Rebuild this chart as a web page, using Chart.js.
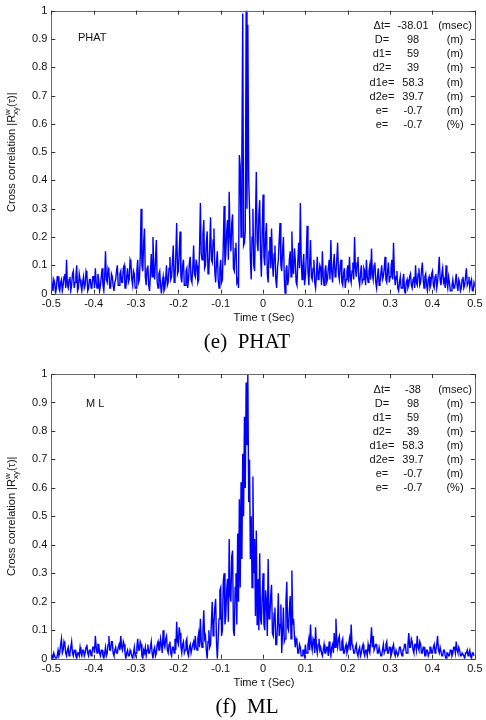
<!DOCTYPE html>
<html><head><meta charset="utf-8">
<script src="https://cdn.jsdelivr.net/npm/chart.js@4/dist/chart.umd.min.js"></script>
<style>
html,body{margin:0;padding:0;background:#fff;width:486px;height:720px;overflow:hidden}
canvas{position:absolute;left:0}
#c1{top:0}
#c2{top:360px}
</style></head><body>
<canvas id="c1" width="486" height="360"></canvas>
<canvas id="c2" width="486" height="360"></canvas>
<script>
// time lag grid (seconds)
const tauStart = -0.5, tauStep = 0.002;

// |R_xy(tau)| (e) PHAT
const phatValues = [
0.07,0.03,0.01,0.05,0.04,0.00,0.02,0.06,0.06,0.02,0.01,0.04,0.05,0.01,0.03,0.06,0.07,0.02,0.12,0.03,0.02,0.05,0.06,0.01,0.03,0.07,0.08,0.02,0.04,0.06,0.10,0.01,0.02,0.07,0.05,0.03,0.01,0.04,0.06,0.02,0.03,0.08,0.07,0.01,0.02,0.05,0.05,0.02,0.03,0.06,
0.06,0.02,0.09,0.04,0.02,0.07,0.05,0.01,0.03,0.06,0.09,0.03,0.01,0.06,0.15,0.05,0.04,0.09,0.08,0.02,0.02,0.07,0.06,0.03,0.01,0.04,0.05,0.08,0.10,0.03,0.03,0.07,0.08,0.04,0.04,0.09,0.10,0.02,0.02,0.06,0.09,0.04,0.05,0.12,0.11,0.05,0.03,0.08,0.07,0.02,
0.02,0.08,0.12,0.04,0.05,0.13,0.30,0.10,0.08,0.18,0.23,0.06,0.03,0.09,0.10,0.03,0.01,0.07,0.14,0.06,0.20,0.09,0.05,0.12,0.19,0.04,0.02,0.07,0.08,0.03,0.00,0.04,0.06,0.01,0.02,0.05,0.10,0.03,0.04,0.09,0.13,0.05,0.06,0.11,0.17,0.04,0.05,0.14,0.25,0.07,
0.08,0.15,0.22,0.06,0.04,0.10,0.12,0.03,0.03,0.08,0.09,0.02,0.05,0.11,0.13,0.05,0.04,0.09,0.17,0.07,0.06,0.12,0.10,0.04,0.05,0.16,0.32,0.14,0.12,0.21,0.26,0.09,0.10,0.18,0.22,0.07,0.08,0.16,0.27,0.12,0.11,0.19,0.23,0.08,0.04,0.11,0.15,0.05,0.02,0.09,
0.12,0.04,0.05,0.17,0.31,0.10,0.14,0.22,0.26,0.12,0.36,0.20,0.15,0.25,0.28,0.09,0.08,0.16,0.18,0.04,0.05,0.02,0.49,0.45,0.20,0.51,0.99,0.17,0.18,0.22,1.00,0.30,0.95,0.41,0.30,0.12,0.05,0.20,0.30,0.10,0.08,0.25,0.43,0.18,0.15,0.28,0.33,0.14,0.06,0.22,
0.35,0.13,0.10,0.21,0.25,0.07,0.04,0.15,0.20,0.09,0.23,0.11,0.06,0.14,0.17,0.05,0.02,0.09,0.12,0.19,0.25,0.10,0.08,0.15,0.20,0.06,0.00,0.08,0.10,0.03,0.05,0.12,0.15,0.06,0.22,0.10,0.07,0.16,0.12,0.04,0.03,0.11,0.18,0.09,0.32,0.12,0.05,0.10,0.14,0.03,
0.06,0.13,0.24,0.08,0.03,0.11,0.19,0.06,0.05,0.09,0.12,0.04,0.02,0.07,0.13,0.05,0.06,0.10,0.09,0.03,0.15,0.06,0.03,0.08,0.10,0.04,0.05,0.09,0.12,0.05,0.19,0.08,0.04,0.10,0.14,0.06,0.07,0.12,0.18,0.07,0.05,0.10,0.12,0.04,0.03,0.07,0.09,0.02,0.05,0.08,
0.10,0.04,0.13,0.06,0.04,0.08,0.11,0.05,0.20,0.09,0.06,0.11,0.13,0.05,0.03,0.07,0.10,0.04,0.05,0.09,0.08,0.03,0.12,0.06,0.04,0.08,0.10,0.05,0.16,0.07,0.05,0.10,0.11,0.04,0.02,0.06,0.09,0.03,0.04,0.07,0.10,0.05,0.06,0.09,0.13,0.05,0.04,0.08,0.11,0.04,
0.06,0.09,0.12,0.05,0.18,0.07,0.03,0.06,0.08,0.02,0.01,0.04,0.06,0.02,0.02,0.05,0.07,0.01,0.00,0.04,0.05,0.02,0.03,0.06,0.07,0.03,0.02,0.05,0.06,0.02,0.10,0.04,0.03,0.07,0.09,0.03,0.04,0.08,0.11,0.05,0.02,0.06,0.07,0.03,0.01,0.05,0.06,0.02,0.03,0.07,
0.08,0.03,0.02,0.06,0.07,0.02,0.04,0.08,0.13,0.05,0.03,0.07,0.09,0.04,0.05,0.02,0.10,0.04,0.02,0.06,0.04,0.01,0.01,0.03,0.05,0.02,0.02,0.04,0.07,0.03,0.01,0.05,0.04,0.01,0.02,0.05,0.06,0.02,0.03,0.06,0.09,0.03,0.04,0.06,0.02,0.04,0.05,0.01,0.01,0.04,0.03
];

// |R_xy(tau)| (f) ML
const mlValues = [
0.02,0.01,0.00,0.02,0.01,0.00,0.00,0.01,0.03,0.01,0.02,0.05,0.07,0.02,0.03,0.06,0.05,0.02,0.01,0.03,0.04,0.01,0.02,0.04,0.06,0.02,0.01,0.03,0.03,0.01,0.00,0.02,0.02,0.01,0.04,0.02,0.01,0.03,0.03,0.01,0.02,0.04,0.05,0.02,0.01,0.03,0.03,0.01,0.02,0.04,
0.04,0.02,0.08,0.04,0.02,0.05,0.05,0.02,0.01,0.03,0.03,0.01,0.00,0.02,0.04,0.01,0.02,0.05,0.08,0.03,0.03,0.06,0.06,0.02,0.01,0.03,0.04,0.02,0.02,0.04,0.05,0.03,0.08,0.04,0.03,0.06,0.05,0.02,0.00,0.02,0.03,0.01,0.01,0.03,0.02,0.01,0.00,0.02,0.04,0.01,
0.02,0.04,0.07,0.03,0.03,0.06,0.05,0.01,0.00,0.03,0.02,0.04,0.01,0.03,0.05,0.02,0.02,0.04,0.06,0.02,0.00,0.03,0.04,0.01,0.02,0.05,0.06,0.03,0.03,0.07,0.05,0.02,0.10,0.05,0.04,0.07,0.08,0.03,0.02,0.05,0.06,0.02,0.01,0.04,0.04,0.02,0.07,0.03,0.13,0.06,
0.05,0.11,0.09,0.04,0.02,0.05,0.06,0.02,0.03,0.06,0.07,0.02,0.01,0.04,0.05,0.02,0.02,0.05,0.06,0.03,0.08,0.04,0.03,0.07,0.09,0.04,0.14,0.06,0.04,0.10,0.17,0.07,0.08,0.03,0.00,0.06,0.10,0.04,0.05,0.13,0.20,0.08,0.12,0.18,0.21,0.06,0.00,0.07,0.14,0.24,
0.25,0.08,0.10,0.27,0.30,0.12,0.15,0.24,0.28,0.13,0.42,0.22,0.20,0.36,0.38,0.10,0.08,0.25,0.30,0.12,0.44,0.20,0.56,0.25,0.62,0.35,0.72,0.50,0.85,0.60,0.97,0.75,1.00,0.55,0.70,0.35,0.50,0.25,0.64,0.30,0.42,0.15,0.45,0.12,0.28,0.10,0.37,0.14,0.12,0.22,
0.30,0.12,0.10,0.24,0.20,0.08,0.35,0.14,0.15,0.22,0.26,0.09,0.08,0.16,0.18,0.05,0.05,0.12,0.23,0.08,0.12,0.19,0.02,0.09,0.18,0.06,0.07,0.20,0.27,0.11,0.10,0.17,0.22,0.07,0.31,0.12,0.14,0.08,0.04,0.07,0.06,0.02,0.02,0.05,0.04,0.01,0.01,0.03,0.03,0.01,
0.05,0.02,0.02,0.05,0.07,0.03,0.12,0.05,0.03,0.07,0.06,0.02,0.11,0.04,0.02,0.05,0.07,0.03,0.04,0.02,0.01,0.03,0.05,0.02,0.02,0.04,0.04,0.01,0.06,0.03,0.01,0.04,0.05,0.02,0.09,0.04,0.14,0.06,0.04,0.07,0.08,0.03,0.03,0.06,0.07,0.02,0.02,0.04,0.05,0.02,
0.03,0.05,0.07,0.03,0.12,0.05,0.04,0.02,0.02,0.04,0.05,0.02,0.01,0.03,0.04,0.01,0.02,0.04,0.05,0.02,0.01,0.03,0.03,0.01,0.05,0.03,0.02,0.06,0.11,0.04,0.08,0.03,0.03,0.05,0.05,0.02,0.02,0.04,0.04,0.01,0.01,0.03,0.05,0.02,0.03,0.05,0.06,0.02,0.02,0.04,
0.04,0.01,0.02,0.04,0.05,0.02,0.01,0.03,0.03,0.01,0.02,0.04,0.04,0.02,0.01,0.03,0.03,0.05,0.05,0.02,0.02,0.05,0.09,0.04,0.04,0.07,0.06,0.03,0.02,0.05,0.05,0.03,0.08,0.04,0.03,0.06,0.05,0.02,0.02,0.04,0.04,0.01,0.01,0.03,0.03,0.01,0.02,0.04,0.04,0.02,
0.02,0.04,0.05,0.02,0.03,0.05,0.08,0.03,0.02,0.04,0.04,0.01,0.01,0.03,0.03,0.01,0.00,0.02,0.02,0.01,0.01,0.03,0.03,0.01,0.02,0.04,0.04,0.02,0.06,0.03,0.02,0.04,0.03,0.01,0.01,0.02,0.02,0.01,0.00,0.02,0.02,0.03,0.01,0.02,0.03,0.01,0.00,0.02,0.02,0.01,0.01
];

const xTickValues = [-0.5,-0.4,-0.3,-0.2,-0.1,0,0.1,0.2,0.3,0.4,0.5];
const yTickValues = [0,0.1,0.2,0.3,0.4,0.5,0.6,0.7,0.8,0.9,1];
const xTitle = 'Time \u03c4 (Sec)';
const infoLabels = ['\u0394t=','D=','d1=','d2=','d1e=','d2e=','e=','e='];
const phatInfo = ['-38.01','98','59','39','58.3','39.7','-0.7','-0.7'];
const mlInfo = ['-38','98','59','39','58.3','39.7','-0.7','-0.7'];
const infoUnits = ['(msec)','(m)','(m)','(m)','(m)','(m)','(m)','(%)'];

const SANS = '"Liberation Sans", Arial, sans-serif';
const SERIF = '"Liberation Serif", "Times New Roman", serif';

function fmt(v){ const r = Math.round(v*10)/10; return (Object.is(r,-0)?0:r).toString(); }

function makeChart(id, values, cfg){
  const pts = values.map((v,i)=>({x: tauStart + i*tauStep, y: v}));
  const deco = {
    id: 'deco'+id,
    afterDraw(chart){
      const {ctx, chartArea:a, scales} = chart;
      const xs = scales.x, ys = scales.y;
      ctx.save();
      ctx.strokeStyle = '#6a6a6a'; ctx.lineWidth = 1;
      ctx.strokeRect(Math.round(a.left)+0.5, Math.round(a.top)+0.5, Math.round(a.right-a.left), Math.round(a.bottom-a.top));
      ctx.strokeStyle = '#333';
      ctx.beginPath();
      const L = 4;
      xTickValues.forEach(v=>{
        const px = Math.round(xs.getPixelForValue(v))+0.5;
        ctx.moveTo(px, a.bottom); ctx.lineTo(px, a.bottom-L);
        ctx.moveTo(px, a.top); ctx.lineTo(px, a.top+L);
      });
      yTickValues.forEach(v=>{
        const py = Math.round(ys.getPixelForValue(v))+0.5;
        ctx.moveTo(a.left, py); ctx.lineTo(a.left+L, py);
        ctx.moveTo(a.right, py); ctx.lineTo(a.right-L, py);
      });
      ctx.stroke();
      ctx.fillStyle = '#111';
      ctx.translate(12, (a.top+a.bottom)/2);
      ctx.rotate(-Math.PI/2);
      const f1 = '11px '+SANS, f2 = '8px '+SANS;
      const p1 = 'Cross correlation |R', sup = 'w', sub = 'xy', p2 = '(\u03c4)|';
      ctx.font = f1; const w1 = ctx.measureText(p1).width, w3 = ctx.measureText(p2).width;
      ctx.font = f2; const w2 = Math.max(ctx.measureText(sup).width, ctx.measureText(sub).width);
      let x0 = -(w1+w2+w3)/2;
      ctx.textBaseline = 'middle'; ctx.textAlign = 'left';
      ctx.font = f1; ctx.fillText(p1, x0, 0);
      ctx.font = f2; ctx.fillText(sup, x0+w1, -4); ctx.fillText(sub, x0+w1, 4);
      ctx.font = f1; ctx.fillText(p2, x0+w1+w2, 0);
      ctx.setTransform(1,0,0,1,0,0);
      ctx.font = '11px '+SANS; ctx.textAlign = 'center'; ctx.textBaseline = 'middle';
      ctx.fillText(xTitle, 264, a.bottom+24.5);
      ctx.textAlign = 'left';
      ctx.fillText(cfg.method, cfg.methodX, a.top+cfg.methodDy);
      ctx.textAlign = 'center';
      for(let i=0;i<infoLabels.length;i++){
        const y = a.top + 15.5 + i*14.1;
        ctx.fillText(infoLabels[i], 382, y);
        ctx.fillText(cfg.info[i], 413, y);
        ctx.fillText(infoUnits[i], 455, y);
      }
      ctx.fillStyle = '#000';
      ctx.font = '21px '+SERIF;
      ctx.fillText(cfg.caption, 247, a.bottom+48.5);
      ctx.restore();
    }
  };
  return new Chart(document.getElementById(id), {
    type: 'line',
    data: { datasets: [{ data: pts, borderColor: '#0000ff', borderWidth: 1.4, pointRadius: 0, tension: 0, fill: false, borderJoinStyle: 'miter' }] },
    options: {
      responsive: false, animation: false,
      layout: { padding: { top: cfg.top, right: 486-477.3, left: 0, bottom: 0 } },
      plugins: { legend: { display: false }, tooltip: { enabled: false } },
      scales: {
        x: { type: 'linear', min: -0.5, max: 0.5,
             afterBuildTicks: s => { s.ticks = xTickValues.map(v=>({value:v})); },
             afterFit: s => { s.height = 360 - cfg.bottom; },
             grid: { display: false, drawTicks: false }, border: { display: false },
             ticks: { padding: 3.5, maxRotation: 0, autoSkip: false, color: '#111', font: { family: SANS, size: 11 }, callback: v => fmt(v) } },
        y: { type: 'linear', min: 0, max: 1,
             afterBuildTicks: s => { s.ticks = yTickValues.map(v=>({value:v})); },
             afterFit: s => { s.width = 51.3; },
             grid: { display: false, drawTicks: false }, border: { display: false },
             ticks: { padding: 4, color: '#111', font: { family: SANS, size: 11 }, callback: v => fmt(v) } }
      }
    },
    plugins: [deco]
  });
}

makeChart('c1', phatValues, { top: 9.5, bottom: 293.7, method: 'PHAT', methodX: 78, methodDy: 27.5, info: phatInfo, caption: '(e)  PHAT' });
makeChart('c2', mlValues, { top: 14, bottom: 298.7, method: 'M L', methodX: 86, methodDy: 30, info: mlInfo, caption: '(f)  ML' });
</script>
</body></html>
